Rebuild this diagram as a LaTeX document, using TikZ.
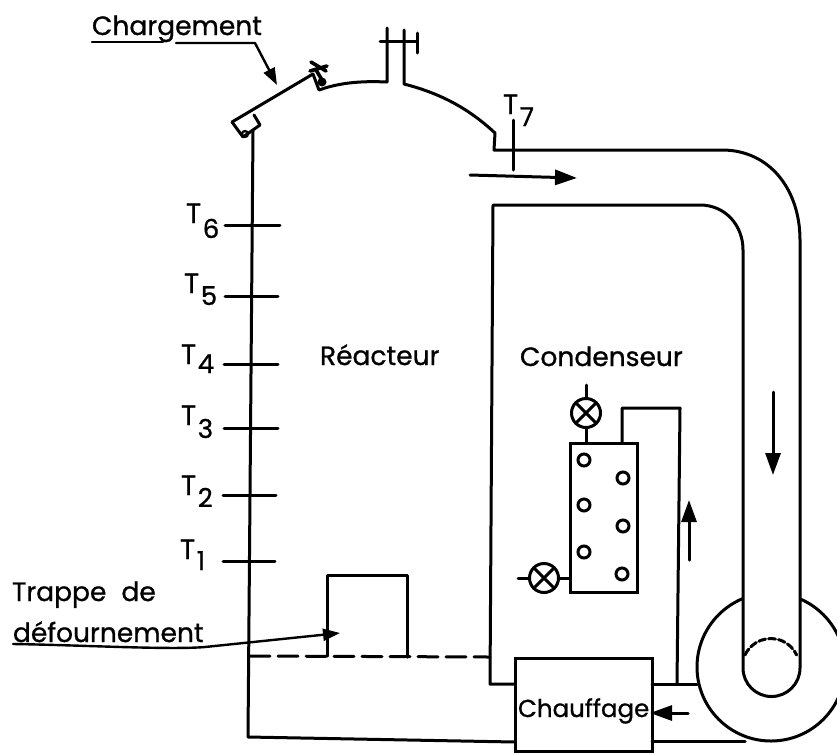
\documentclass[tikz,border=0pt]{standalone}
\usepackage{fontspec}
\setmainfont{Poppins}[FakeBold=0.9]
\usetikzlibrary{arrows.meta,calc}
\newcommand{\Tlab}[2]{\makebox[16.8pt][l]{T}\raisebox{-#1pt}{\fontsize{26}{26}\selectfont #2}}
\tikzset{
  every node/.style={outer sep=0pt},
  wall/.style={line width=3pt,line join=round,line cap=round},
  lab/.style={inner sep=0pt,anchor=base west,font=\fontsize{26.5}{28}\selectfont},
  tlab/.style={inner sep=0pt,anchor=base west,font=\fontsize{28}{30}\selectfont},
  valve/.style={circle,draw,line width=3pt,minimum size=29pt,inner sep=0pt},
  hole/.style={circle,draw,line width=3pt,minimum size=12pt,inner sep=0pt},
  flow/.style={wall,-{Triangle[length=22pt,width=15pt]}},
  pointer/.style={line width=2.4pt,line cap=round,line join=round,-{Triangle[length=17pt,width=12pt]}}
}
\begin{document}
\begin{tikzpicture}[x=1pt,y=-1pt]
\useasboundingbox[clip] (0,0) rectangle (837,753);
\fill[white] (0,0) rectangle (837,753);
\coordinate (wt) at (253,131);
\coordinate (wb) at (248,737);
\node[draw,line width=3pt,minimum width=137pt,minimum height=93pt,inner sep=0pt] (heat) at (583.5,704.5) {};
\node[inner sep=0pt,anchor=base west,font=\fontsize{24.5}{26}\selectfont] (heattext) at (518,717) {Chauffage};
\node[draw,line width=3pt,minimum width=67pt,minimum height=149pt,inner sep=0pt] (rad) at (603.5,517.5) {};
\node[valve] (v1) at (586,413) {};
\node[valve] (v2) at (544,578) {};
\foreach \n in {v1,v2} \draw[wall] (\n.45)--(\n.225) (\n.135)--(\n.315);
\node[hole] (h1) at (584,460) {};
\node[hole] (h2) at (623,478) {};
\node[hole] (h3) at (584,505) {};
\node[hole] (h4) at (623,526) {};
\node[hole] (h5) at (584,552) {};
\node[hole] (h6) at (622,574) {};
% reactor outer
\draw[wall] (wt) -- (wb) -- (heat.west |- 0,742);
\draw[wall] (232,122) -- (313,74) -- (319,90) -- (325,88) .. controls (345,82) and (365,81) .. (387,82) -- (387,28);
\draw[wall] (232,122) -- (243,137) -- (260,125) -- (254,115);
\draw[line width=2.2pt] (245,134) circle (3);
\draw[wall] (404,30) -- (404,84) .. controls (435,92) and (465,105) .. (495,133) -- (494,150)
   -- (722,150) .. controls (770,150) and (800,190) .. (800,240) -- (800,668)
   arc[start angle=0,end angle=180,radius=28.5] -- (743,250)
   .. controls (743,225) and (725,205) .. (700,205) -- (493,205) -- (490,684) -- (heat.west |- 0,684);
\draw[wall] (380,41) -- (417,41) (417,33) -- (417,53);
% flange on the loading door
\draw[line width=3.6pt,line cap=round] (311,62) -- (326,71) (310,71) -- (327,66) (316,70) -- (322,80);
\fill (322,82) circle (4.5);
% dashed floor and trap
\draw[wall,dash pattern=on 20pt off 8pt] (250,656) -- (490,657);
\draw[wall] (327,656) -- (327,575) -- (407,575) -- (407,657);
% fan casing
\coordinate (fc) at (771,667);
\begin{scope}
\clip (600,560) rectangle (743,753) (800,560) rectangle (837,753) (743,697) rectangle (800,753);
\draw[wall] (fc) circle (74);
\end{scope}
\draw[wall,dash pattern=on 7pt off 3pt] (745,655) arc[start angle=205,end angle=335,radius=28.5];
% return line
\draw[wall] (heat.east |- 0,684) -- (697,684);
\draw[wall] (677,684) -- (680,408) -- (622,408) -- (622,443);
\draw[wall] (heat.east |- 0,741) -- (745,741);
% valve stems
\draw[wall] (586,385) -- (v1.north);
\draw[wall] (v1.south) -- (586,443);
\draw[wall] (518,578) -- (v2.west);
\draw[wall] (v2.east) -- (570,578);
% flow arrows
\draw[flow] (470,175) -- (577,178);
\draw[flow] (773,392) -- (773,475);
\draw[flow] (689,560) -- (689,500);
\draw[flow] (688,713) -- (650,713);
% thermocouples
\foreach \y/\xa/\xb/\n/\lx/\by/\dr in {225/225/280/6/186/223/15,296/225/278/5/184/293/12,364/224/278/4/181/364/9,428/224/278/3/181/425/13,495/223/276/2/181/495/12,561/223/275/1/180/559/11}{
  \draw[wall] (\xa,\y) -- (\xb,\y);
  \node[tlab] (T\n) at (\lx,\by) {\Tlab{\dr}{\n}};
}
\draw[wall] (513,120) -- (513,170);
\node[tlab] (T7) at (503,114) {\Tlab{12}{7}};
% labels
\node[lab] (lchg) at (92,35) {Chargement};
\node[lab] (lreac) at (320,365) {Réacteur};
\node[lab] (lcond) at (520,366) {Condenseur};
\node[lab] (ltr) at (12,601) {Trappe\hspace{8pt} de};
\node[lab] (ldef) at (13,642) {défournement};
\coordinate (pc) at (277,85);
\coordinate (pt) at (340,633);
\draw[line width=2.4pt,line cap=round] (92,42) -- (163,42);
\draw[pointer] (176,43) -- (255,43) -- (pc);
\draw[pointer] (13,644) .. controls (80,645) and (170,650) .. (205,647) -- (pt);
\end{tikzpicture}
\end{document}
